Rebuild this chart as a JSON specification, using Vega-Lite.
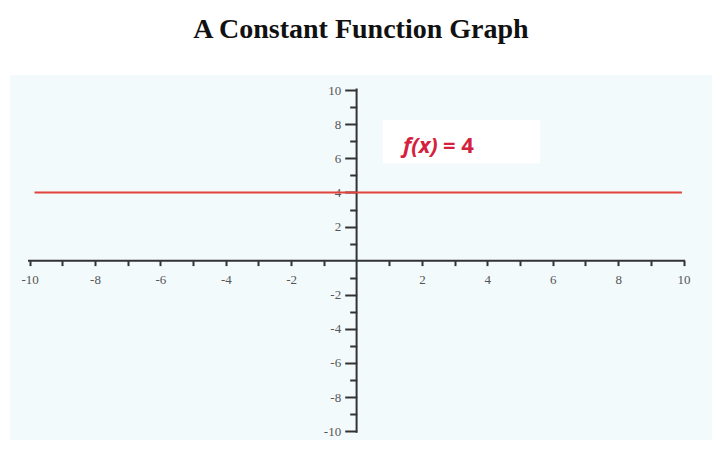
{
  "$schema": "https://vega.github.io/schema/vega-lite/v6.json",
  "autosize": {"type": "none"},
  "padding": {"left": 10, "top": 75, "right": 8, "bottom": 21},
  "width": 702,
  "height": 365,
  "background": "white",
  "title": {
    "text": "A Constant Function Graph",
    "font": "Liberation Serif",
    "fontSize": 28,
    "fontWeight": "bold",
    "color": "#111",
    "anchor": "middle",
    "frame": "group",
    "baseline": "alphabetic",
    "offset": 9
  },
  "config": {
    "view": {"fill": "#f3fafc", "stroke": null}
  },
  "encoding": {
    "x": {
      "field": "x",
      "type": "quantitative",
      "scale": {"domain": [-10.6, 10.87], "nice": false, "zero": false},
      "axis": {
        "title": null,
        "values": [-10, -9, -8, -7, -6, -5, -4, -3, -2, -1, 1, 2, 3, 4, 5, 6, 7, 8, 9, 10],
        "labelExpr": "datum.value % 2 == 0 ? '' + datum.value : ''",
        "offset": -179.4,
        "domain": false,
        "grid": false,
        "tickSize": 5,
        "tickWidth": 2,
        "tickColor": "#333",
        "labelFont": "Liberation Serif",
        "labelFontSize": 13,
        "labelColor": "#555",
        "labelPadding": 8,
        "labelOverlap": false,
        "labelFlush": false,
        "labelBound": false
      }
    },
    "y": {
      "field": "y",
      "type": "quantitative",
      "scale": {"domain": [-10.52, 10.89], "nice": false, "zero": false},
      "axis": {
        "title": null,
        "values": [-10, -9, -8, -7, -6, -5, -4, -3, -2, -1, 1, 2, 3, 4, 5, 6, 7, 8, 9, 10],
        "labelExpr": "datum.value % 2 == 0 ? '' + datum.value : ''",
        "offset": -346.7,
        "domain": false,
        "grid": false,
        "tickSize": {"condition": {"test": "datum.value % 2 == 0", "value": 12}, "value": 7},
        "tickWidth": 2,
        "tickColor": "#333",
        "labelFont": "Liberation Serif",
        "labelFontSize": 13,
        "labelColor": "#555",
        "labelPadding": 4,
        "labelOverlap": false,
        "labelFlush": false,
        "labelBound": false
      }
    }
  },
  "layer": [
    {
      "data": {"values": [{"x": 0.8, "x2": 5.61, "y": 5.72, "y2": 8.25}]},
      "mark": {"type": "rect", "fill": "white"},
      "encoding": {"x2": {"field": "x2"}, "y2": {"field": "y2"}}
    },
    {
      "data": {"values": [{"x": -10.05, "x2": 10.05, "y": 0}]},
      "mark": {"type": "rule", "color": "#333", "strokeWidth": 2},
      "encoding": {"x2": {"field": "x2"}}
    },
    {
      "data": {"values": [{"x": 0, "y": -10.1, "y2": 10.1}]},
      "mark": {"type": "rule", "color": "#333", "strokeWidth": 2},
      "encoding": {"y2": {"field": "y2"}}
    },
    {
      "data": {"values": [{"x": -9.85, "y": 4}, {"x": 9.95, "y": 4}]},
      "mark": {"type": "line", "color": "#e2433a", "strokeWidth": 2},
      "encoding": {}
    },
    {
      "data": {"values": [{"x": 1.42, "y": 6.72, "t": "f(x)"}]},
      "mark": {"type": "text", "align": "left", "baseline": "middle", "font": "Open Sans", "fontSize": 22, "fontWeight": "bold", "fontStyle": "italic", "color": "#d4213d"},
      "encoding": {"text": {"field": "t"}}
    },
    {
      "data": {"values": [{"x": 2.64, "y": 6.72, "t": "= 4"}]},
      "mark": {"type": "text", "align": "left", "baseline": "middle", "font": "Open Sans", "fontSize": 22, "fontWeight": "bold", "color": "#d4213d"},
      "encoding": {"text": {"field": "t"}}
    }
  ]
}
